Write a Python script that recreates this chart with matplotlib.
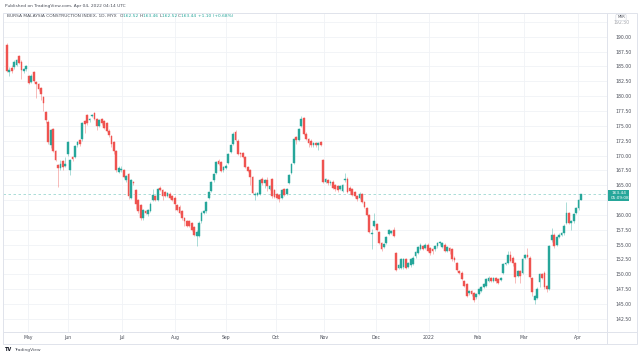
import matplotlib
matplotlib.use("Agg")
import matplotlib.pyplot as plt
from matplotlib.lines import Line2D
from matplotlib.patches import Rectangle

# daily candles, Bursa Malaysia Construction Index
opens = [188.6, 184.0, 184.8, 184.9, 185.3, 186.7, 185.8, 184.2, 184.6, 183.4,
         182.4, 184.0, 182.3, 182.0, 181.4, 179.8, 177.3, 175.7, 171.8, 174.4,
         170.7, 168.4, 167.9, 169.0, 168.3, 170.2, 167.5, 169.7, 169.7, 171.7,
         172.6, 172.7, 175.8, 176.8, 175.9, 176.6, 177.1, 176.1, 175.0, 176.1,
         175.8, 175.4, 174.2, 173.3, 172.2, 170.8, 167.2, 167.5, 167.5, 165.9,
         166.9, 162.9, 165.5, 164.2, 162.5, 161.7, 159.4, 160.6, 160.1, 160.7,
         162.5, 163.2, 162.5, 164.6, 164.2, 163.9, 163.2, 163.6, 163.2, 162.9,
         161.7, 161.4, 160.6, 159.4, 158.9, 158.9, 158.6, 158.0, 156.4, 156.5,
         158.9, 160.3, 160.6, 162.9, 164.0, 165.8, 167.1, 169.0, 168.9, 167.5,
         167.9, 168.7, 170.6, 172.0, 174.0, 172.5, 170.4, 170.4, 169.7, 168.1,
         167.5, 166.3, 163.3, 163.4, 163.6, 166.1, 165.3, 165.8, 164.4, 166.0,
         164.2, 163.5, 163.3, 162.8, 164.3, 163.5, 165.4, 167.1, 168.7, 173.1,
         172.6, 175.0, 176.3, 173.7, 172.8, 172.5, 171.7, 172.1, 171.7, 172.2,
         169.2, 165.6, 165.9, 165.3, 165.6, 165.0, 164.8, 164.4, 164.1, 165.8,
         166.1, 164.6, 164.3, 163.9, 163.2, 162.9, 163.5, 162.2, 161.1, 160.0,
         156.8, 158.2, 158.5, 157.1, 155.3, 154.6, 155.3, 156.8, 157.0, 157.4,
         153.6, 151.1, 151.1, 151.3, 152.5, 151.3, 151.5, 151.7, 153.0, 153.6,
         154.3, 154.7, 154.4, 155.0, 154.4, 154.3, 154.2, 154.7, 155.2, 154.6,
         155.0, 154.0, 154.4, 154.2, 152.8, 151.9, 150.6, 150.3, 148.9, 148.3,
         146.8, 147.2, 146.9, 146.1, 146.7, 147.2, 147.9, 148.0, 148.9, 149.4,
         148.9, 149.4, 149.2, 149.0, 150.2, 151.7, 151.9, 153.2, 152.8, 151.9,
         149.8, 150.5, 150.2, 152.8, 153.3, 152.8, 149.4, 145.7, 146.0, 148.7,
         150.0, 150.3, 148.0, 147.5, 155.7, 156.7, 155.0, 156.3, 156.7, 156.9,
         158.7, 160.3, 158.6, 158.9, 160.3, 161.1, 162.52]
highs = [189.0, 184.9, 185.3, 186.1, 186.3, 187.0, 186.0, 184.8, 185.2, 183.6,
         183.7, 184.2, 182.5, 182.2, 181.6, 180.0, 177.5, 175.9, 174.5, 174.6,
         170.9, 168.6, 169.3, 169.2, 169.7, 172.4, 169.4, 169.9, 171.8, 172.5,
         172.8, 175.6, 176.0, 177.0, 176.3, 177.0, 177.3, 176.3, 176.2, 176.3,
         176.0, 175.6, 174.4, 173.5, 172.4, 171.0, 168.3, 168.3, 167.7, 166.8,
         167.1, 166.1, 165.7, 164.4, 162.7, 161.9, 161.0, 160.8, 161.0, 162.1,
         164.3, 163.4, 164.5, 164.8, 164.4, 164.1, 163.9, 163.8, 163.4, 163.1,
         161.9, 161.6, 160.8, 159.6, 159.1, 159.1, 158.8, 158.2, 157.4, 158.9,
         160.6, 160.8, 162.4, 164.1, 165.7, 167.1, 169.1, 169.4, 169.1, 168.2,
         168.5, 170.5, 172.0, 173.9, 174.3, 172.7, 170.6, 170.6, 169.9, 168.3,
         167.7, 166.5, 163.8, 163.9, 166.1, 166.3, 166.0, 166.3, 165.0, 166.2,
         164.4, 163.7, 163.5, 164.4, 164.5, 164.6, 166.9, 168.7, 173.0, 173.3,
         174.6, 176.7, 176.5, 173.9, 173.0, 172.7, 172.3, 172.3, 172.3, 172.5,
         169.4, 166.2, 166.1, 165.8, 165.8, 165.2, 165.0, 165.0, 165.2, 167.1,
         166.3, 164.8, 164.5, 164.1, 163.4, 163.8, 163.7, 162.4, 161.3, 160.2,
         157.6, 160.4, 158.7, 157.3, 155.5, 155.3, 156.5, 157.6, 157.5, 158.0,
         153.8, 151.8, 152.7, 152.8, 152.7, 152.1, 152.7, 153.0, 153.9, 154.8,
         155.2, 154.9, 155.2, 155.2, 154.6, 154.5, 155.0, 155.4, 155.6, 155.5,
         155.2, 154.8, 154.6, 154.4, 153.0, 152.1, 150.8, 150.5, 149.1, 148.5,
         147.4, 147.4, 147.1, 146.9, 147.7, 148.0, 148.5, 149.4, 149.8, 149.6,
         149.6, 149.6, 149.4, 149.6, 151.9, 152.1, 153.9, 153.9, 153.0, 152.1,
         150.7, 150.7, 152.8, 153.5, 154.4, 153.0, 149.6, 146.6, 147.8, 150.2,
         150.2, 150.5, 148.2, 154.9, 157.8, 156.9, 156.5, 156.9, 157.1, 158.4,
         162.2, 160.5, 159.1, 160.3, 161.3, 162.7, 163.46]
lows = [184.0, 183.4, 183.9, 184.6, 185.0, 185.4, 182.9, 183.9, 184.3, 182.0,
        182.2, 182.3, 179.6, 180.9, 179.4, 177.5, 175.4, 172.0, 171.2, 170.6,
        169.0, 164.7, 167.6, 167.6, 168.0, 170.0, 166.7, 169.1, 169.5, 171.4,
        171.6, 172.5, 173.8, 175.2, 175.6, 176.4, 176.0, 174.3, 174.8, 175.2,
        174.5, 173.9, 173.2, 171.5, 170.3, 167.3, 167.0, 167.3, 166.2, 165.6,
        162.6, 162.6, 165.0, 161.0, 160.4, 159.2, 159.2, 160.1, 159.9, 160.5,
        162.3, 162.3, 162.3, 164.0, 162.5, 163.0, 163.0, 162.7, 162.3, 160.8,
        160.6, 160.2, 159.2, 158.2, 157.9, 158.0, 157.3, 156.5, 154.7, 156.3,
        158.7, 160.1, 160.4, 162.7, 163.8, 165.6, 166.9, 168.4, 167.2, 167.3,
        167.7, 168.5, 170.4, 171.8, 172.4, 170.1, 169.8, 169.5, 167.9, 167.2,
        165.0, 163.5, 162.5, 163.1, 163.4, 165.1, 164.6, 164.0, 164.2, 162.9,
        162.8, 162.6, 162.2, 162.6, 163.1, 163.3, 165.2, 166.9, 168.5, 171.9,
        172.4, 174.8, 173.5, 172.6, 171.4, 171.5, 171.5, 171.5, 170.9, 171.6,
        165.4, 165.4, 165.1, 165.1, 164.4, 164.1, 163.8, 164.2, 163.8, 165.6,
        163.7, 163.5, 163.1, 162.9, 162.4, 162.7, 162.0, 161.1, 159.8, 157.0,
        154.2, 158.0, 157.3, 155.1, 153.9, 154.4, 155.1, 156.6, 156.8, 156.3,
        150.6, 150.9, 150.9, 150.9, 150.9, 151.1, 151.3, 151.5, 152.8, 153.4,
        154.1, 154.1, 154.2, 153.7, 153.2, 153.5, 154.0, 154.5, 155.0, 154.4,
        153.7, 153.8, 153.4, 152.3, 152.0, 150.5, 150.0, 149.0, 147.9, 146.2,
        146.6, 146.3, 145.3, 145.9, 146.5, 147.0, 147.7, 147.8, 148.7, 148.7,
        148.7, 148.6, 148.4, 148.8, 150.0, 151.5, 151.7, 152.0, 151.4, 148.6,
        149.6, 148.5, 150.0, 152.6, 152.7, 149.4, 146.4, 145.0, 145.8, 147.8,
        149.2, 147.6, 147.0, 147.3, 155.5, 154.5, 154.8, 156.1, 156.5, 156.7,
        158.5, 158.5, 157.5, 158.7, 160.1, 160.9, 162.52]
closes = [184.2, 184.4, 184.2, 185.8, 186.0, 185.6, 184.4, 184.5, 185.0, 182.2,
          183.4, 182.5, 182.0, 181.2, 180.4, 178.9, 176.0, 172.2, 174.3, 170.8,
          169.2, 167.9, 168.6, 168.0, 168.6, 172.2, 169.2, 169.4, 171.6, 172.3,
          171.9, 175.4, 175.3, 175.4, 176.1, 176.8, 176.2, 175.0, 176.0, 175.4,
          174.7, 174.2, 173.4, 171.9, 170.8, 167.5, 167.9, 167.8, 166.4, 166.6,
          163.1, 165.9, 165.3, 161.9, 160.6, 159.4, 160.8, 160.3, 160.8, 161.9,
          163.3, 162.5, 164.3, 164.2, 163.2, 163.2, 163.7, 162.9, 162.5, 161.9,
          160.8, 160.4, 159.4, 158.9, 158.1, 158.2, 157.5, 156.7, 157.2, 158.7,
          160.4, 160.6, 162.2, 163.9, 165.5, 166.9, 168.9, 168.6, 167.4, 168.0,
          168.3, 170.3, 171.8, 173.7, 172.6, 170.3, 170.2, 169.7, 168.1, 167.4,
          166.4, 163.7, 163.6, 163.7, 165.9, 165.3, 165.8, 164.8, 164.8, 163.1,
          163.0, 162.8, 162.6, 164.2, 163.3, 164.4, 166.7, 168.5, 172.8, 172.6,
          174.4, 176.1, 173.7, 172.8, 172.1, 171.7, 172.1, 171.7, 172.1, 171.8,
          165.6, 166.0, 165.3, 165.6, 164.6, 164.3, 164.2, 164.8, 165.0, 166.1,
          163.9, 164.0, 163.3, 163.1, 162.6, 163.6, 162.2, 161.3, 160.0, 157.2,
          157.0, 159.0, 157.5, 155.3, 154.3, 155.1, 156.3, 157.4, 157.3, 156.5,
          150.8, 151.6, 152.5, 152.6, 151.1, 151.9, 152.5, 152.8, 153.7, 154.6,
          155.0, 154.3, 155.0, 153.9, 153.6, 153.9, 154.8, 155.2, 155.4, 155.3,
          153.9, 154.6, 153.9, 152.5, 152.4, 150.7, 150.2, 149.2, 148.1, 146.4,
          147.2, 146.7, 145.7, 146.7, 147.5, 147.8, 148.3, 149.2, 149.4, 148.9,
          149.4, 148.8, 148.6, 149.4, 151.7, 151.9, 153.2, 152.2, 151.9, 149.6,
          150.5, 149.7, 152.6, 153.3, 152.9, 149.6, 147.0, 146.4, 147.6, 150.0,
          149.4, 147.8, 147.5, 154.7, 156.7, 154.7, 156.3, 156.7, 156.9, 158.2,
          160.3, 158.7, 158.9, 160.1, 161.1, 162.5, 163.44]

month_labels = ["May", "Jun", "Jul", "Aug", "Sep", "Oct", "Nov", "Dec", "2022", "Feb", "Mar", "Apr"]
month_pos = [8.6, 25.1, 47.3, 69.1, 90.0, 110.6, 130.3, 151.7, 173.5, 193.7, 212.6, 234.8]
price_ticks = [142.5, 145, 147.5, 150, 152.5, 155, 157.5, 160, 162.5, 165, 167.5,
               170, 172.5, 175, 177.5, 180, 182.5, 185, 187.5, 190, 192.5]
# labels hidden in the reference (under the last-price tag / currency tag)
hidden_ticks = [162.5, 192.5]
last_price = 163.44

UP = "#26a69a"
DOWN = "#ef5350"
TXT = "#4a4e59"
GRID = "#f0f2f6"
LINE = "#e0e3eb"

W, H = 639, 358
fig = plt.figure(figsize=(W / 100, H / 100), dpi=100)
fig.patch.set_facecolor("white")


def fx(px):
    return px / W


def fy(py):
    return 1 - py / H


ax = fig.add_axes([fx(3), fy(332), fx(604), (332 - 13) / H])
ax.set_xlim(-1.6, 246.7)
ax.set_ylim(140.29, 193.99)

n = len(closes)
xs = list(range(n))
cols = [UP if c >= o else DOWN for o, c in zip(opens, closes)]
ax.vlines(xs, lows, highs, colors=cols, linewidth=0.6, alpha=0.45, zorder=2)
ax.bar(xs, [c - o for o, c in zip(opens, closes)], bottom=opens, width=0.72,
       color=cols, edgecolor=cols, linewidth=0.3, zorder=3)

ax.axhline(last_price, color=UP, linestyle=(0, (3, 3)), linewidth=0.6, alpha=0.45, zorder=1)

ax.set_yticks(price_ticks)
ax.set_yticklabels(["" if p in hidden_ticks else f"{p:.2f}" for p in price_ticks])
ax.yaxis.tick_right()
ax.set_xticks(month_pos)
ax.set_xticklabels(month_labels)
ax.tick_params(axis="both", length=0, labelsize=3.3, labelcolor=TXT)
ax.tick_params(axis="y", pad=6)
ax.tick_params(axis="x", pad=2.5)
ax.grid(True, color=GRID, linewidth=0.6)
ax.set_axisbelow(True)
for s in ax.spines.values():
    s.set_visible(False)

# frame and separators
fig.add_artist(Rectangle((fx(3), fy(344)), fx(634), (344 - 13) / H, transform=fig.transFigure,
                         fill=False, edgecolor=LINE, linewidth=0.7))
fig.add_artist(Line2D([fx(3), fx(637)], [fy(332), fy(332)], color=LINE, linewidth=0.7))
fig.add_artist(Line2D([fx(607), fx(607)], [fy(13), fy(344)], color=LINE, linewidth=0.7))

# last price tag
fig.add_artist(Rectangle((fx(608), fy(201)), fx(21), 11 / H, transform=fig.transFigure,
                         facecolor=UP, edgecolor="none"))
fig.text(fx(611), fy(193.3), "163.44", fontsize=3.1, color="white", va="center")
fig.text(fx(611), fy(198.2), "05:09:08", fontsize=3.1, color="white", va="center")

# currency tag, partly covering the top price label
fig.text(fx(621), fy(17.5), "MYR", fontsize=2.6, color=TXT, ha="center", va="center",
         bbox=dict(boxstyle="round,pad=0.35", facecolor="white", edgecolor="#cfd3dc", linewidth=0.4))
fig.text(fx(621), fy(22.5), "192.50", fontsize=3.3, color=TXT, ha="center", va="center",
         alpha=0.5, zorder=1)

fig.text(fx(5), fy(6), "Published on TradingView.com, Apr 04, 2022 04:14 UTC",
         fontsize=3.2, color=TXT, va="center")

# legend line with coloured values
pieces = [("BURSA MALAYSIA CONSTRUCTION INDEX, 1D, MYX  ", TXT), ("O", TXT), ("162.52 ", UP),
          ("H", TXT), ("163.46 ", UP), ("L", TXT), ("162.52 ", UP), ("C", TXT),
          ("163.44 ", UP), ("+1.10 (+0.68%)", UP)]
renderer = fig.canvas.get_renderer()
xpos = 7
for txt, c in pieces:
    t = fig.text(fx(xpos), fy(16), txt, fontsize=3.15, color=c, va="center")
    xpos += t.get_window_extent(renderer).width

fig.text(fx(5), fy(349.5), "TV", fontsize=3.6, color="#131722", weight="bold", va="center")
fig.text(fx(14), fy(349.5), "TradingView", fontsize=3.2, color=TXT, va="center")

fig.savefig("out.png", dpi=100)
